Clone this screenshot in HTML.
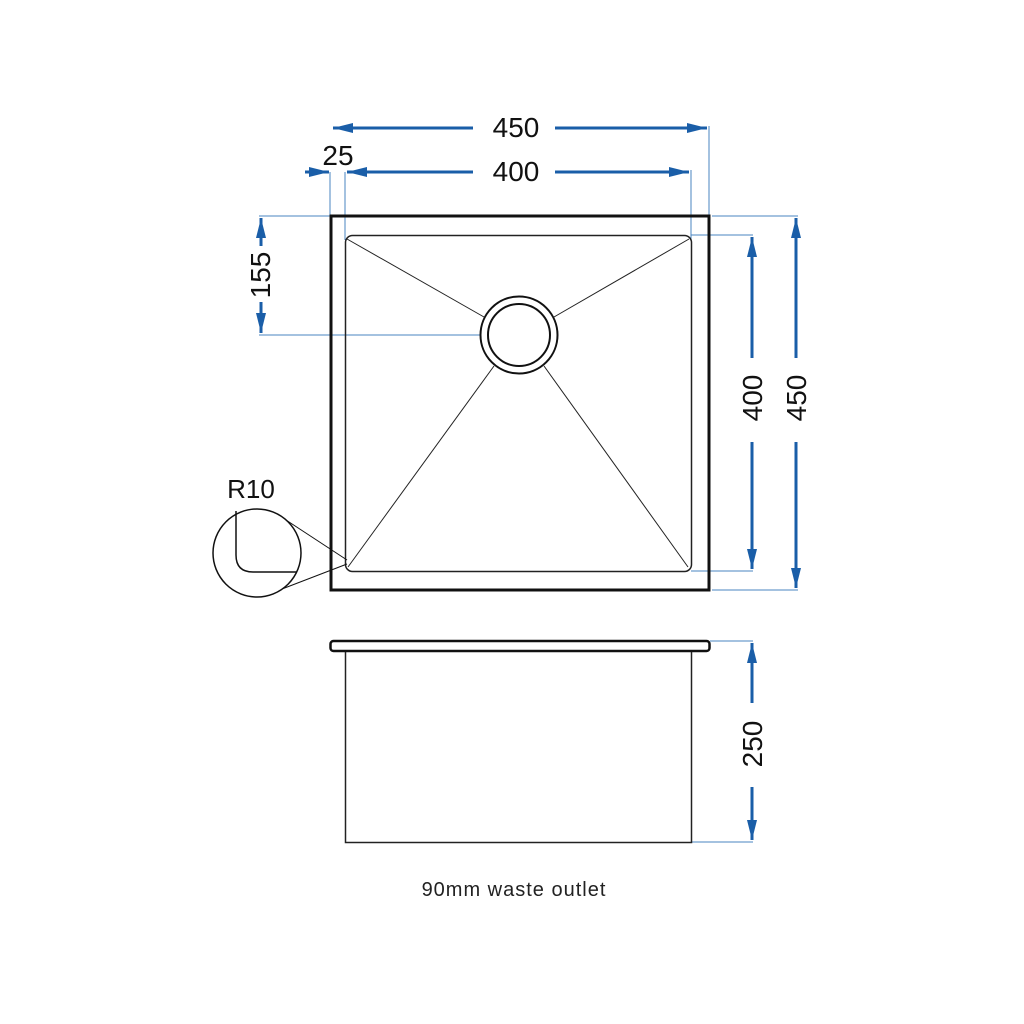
<!DOCTYPE html>
<html><head><meta charset="utf-8"><style>
html,body{margin:0;padding:0;background:#fff;}
svg{display:block}
text{font-family:"Liberation Sans",sans-serif;}
</style></head><body>
<svg width="1024" height="1024" viewBox="0 0 1024 1024" xmlns="http://www.w3.org/2000/svg">
<defs>
<marker id="a" viewBox="0 0 20 10" refX="20" refY="5" markerWidth="20" markerHeight="10" markerUnits="userSpaceOnUse" orient="auto"><path d="M0,0 L20,5 L0,10 z" fill="#1a5ea8"/></marker>
</defs>
<g stroke="#4a86c0" stroke-width="1" fill="none">
<line x1="330" y1="172" x2="330" y2="216"/>
<line x1="345" y1="172" x2="345" y2="240"/>
<line x1="709" y1="126" x2="709" y2="216"/>
<line x1="691" y1="170" x2="691" y2="240"/>
<line x1="259" y1="216" x2="330" y2="216"/>
<line x1="259" y1="335" x2="480" y2="335"/>
<line x1="712" y1="216" x2="798" y2="216"/>
<line x1="691" y1="235" x2="753" y2="235"/>
<line x1="691" y1="571" x2="753" y2="571"/>
<line x1="712" y1="590" x2="798" y2="590"/>
<line x1="710" y1="641" x2="753" y2="641"/>
<line x1="692" y1="842" x2="753" y2="842"/>
</g>
<g stroke="#1a5ea8" stroke-width="3" fill="none">
<line x1="473" y1="128" x2="333" y2="128" marker-end="url(#a)"/>
<line x1="555" y1="128" x2="707" y2="128" marker-end="url(#a)"/>
<line x1="473" y1="172" x2="347" y2="172" marker-end="url(#a)"/>
<line x1="555" y1="172" x2="689" y2="172" marker-end="url(#a)"/>
<line x1="305" y1="172" x2="329" y2="172" marker-end="url(#a)"/>
<line x1="261" y1="246" x2="261" y2="218" marker-end="url(#a)"/>
<line x1="261" y1="302" x2="261" y2="333" marker-end="url(#a)"/>
<line x1="752" y1="358" x2="752" y2="237" marker-end="url(#a)"/>
<line x1="752" y1="442" x2="752" y2="569" marker-end="url(#a)"/>
<line x1="796" y1="358" x2="796" y2="218" marker-end="url(#a)"/>
<line x1="796" y1="442" x2="796" y2="588" marker-end="url(#a)"/>
<line x1="752" y1="703" x2="752" y2="643" marker-end="url(#a)"/>
<line x1="752" y1="787" x2="752" y2="840" marker-end="url(#a)"/>
</g>
<rect x="331" y="216" width="378" height="374" fill="none" stroke="#111" stroke-width="3"/>
<rect x="345.5" y="235.5" width="346" height="336" rx="7" fill="none" stroke="#222" stroke-width="1.5"/>
<g stroke="#222" stroke-width="1" fill="none">
<line x1="347" y1="239" x2="484" y2="317"/>
<line x1="689" y1="239" x2="554" y2="317"/>
<line x1="348" y1="567" x2="494" y2="366"/>
<line x1="688" y1="567" x2="544" y2="366"/>
</g>
<circle cx="519" cy="335" r="38.5" fill="#fff" stroke="#111" stroke-width="2"/>
<circle cx="519" cy="335" r="31" fill="none" stroke="#111" stroke-width="2"/>
<circle cx="257" cy="553" r="44" fill="#fff" stroke="#111" stroke-width="1.5"/>
<path d="M236,511 V555 Q236,572 253,572 H297" fill="none" stroke="#111" stroke-width="1.5"/>
<line x1="286" y1="520" x2="347" y2="560" stroke="#111" stroke-width="1"/>
<line x1="282" y1="589" x2="347" y2="564" stroke="#111" stroke-width="1"/>
<rect x="330.5" y="641" width="379" height="10" rx="3" fill="none" stroke="#111" stroke-width="2.5"/>
<path d="M345.5,652 V842.5 H691.5 V652" fill="none" stroke="#222" stroke-width="1.5"/>
<g font-size="28" fill="#111">
<text x="516" y="137" text-anchor="middle">450</text>
<text x="516" y="181" text-anchor="middle">400</text>
<text x="338" y="165" text-anchor="middle">25</text>
<text transform="translate(270,275) rotate(-90)" text-anchor="middle">155</text>
<text transform="translate(762,398) rotate(-90)" text-anchor="middle">400</text>
<text transform="translate(806,398) rotate(-90)" text-anchor="middle">450</text>
<text transform="translate(762,744) rotate(-90)" text-anchor="middle">250</text>
<text x="251" y="498" text-anchor="middle" font-size="26">R10</text>
</g>
<text x="514" y="896" text-anchor="middle" font-size="20" letter-spacing="1" fill="#222">90mm waste outlet</text>
</svg>
</body></html>
